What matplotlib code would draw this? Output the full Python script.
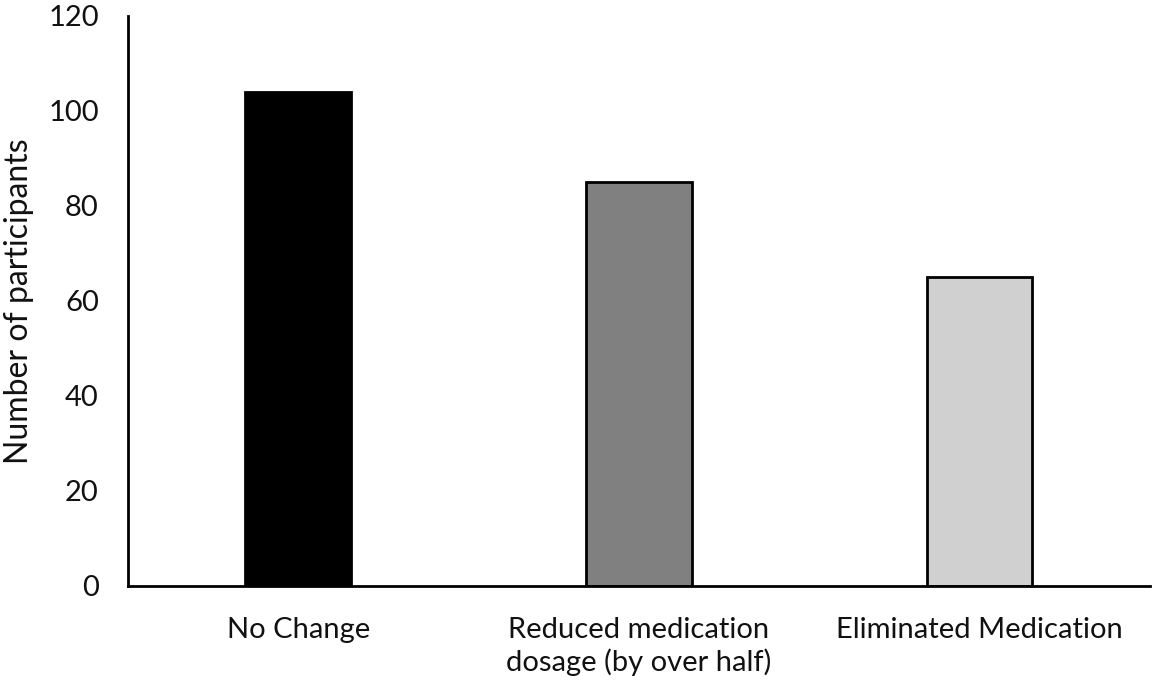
import matplotlib.pyplot as plt
import numpy as np

categories = ['No Change', 'Reduced medication\ndosage (by over half)', 'Eliminated Medication']
participants = [104, 85, 65]
bar_colors = ['#000000', '#808080', '#d0d0d0']

plt.rcParams['font.family'] = ['Lato', 'DejaVu Sans']

fig = plt.figure(figsize=(11.6, 6.86), dpi=100)
ax = fig.add_axes([0.1103, 0.1458, 0.881, 0.8309])

x = np.arange(len(categories))
ax.bar(x, participants, width=0.31, color=bar_colors, edgecolor='black', linewidth=2)

ax.set_xlim(-0.5, 2.5)
ax.set_ylim(0, 120)
ax.set_yticks(range(0, 121, 20))
ax.set_xticks(x)
ax.set_xticklabels(categories, fontsize=21, color='#111111', linespacing=1.25)
ax.tick_params(axis='y', labelsize=21, labelcolor='#111111', length=0, pad=21)
ax.tick_params(axis='x', length=0, pad=22)
ax.set_ylabel('Number of participants', fontsize=23, color='#111111', labelpad=10)

for s in ['top', 'right']:
    ax.spines[s].set_visible(False)
for s in ['left', 'bottom']:
    ax.spines[s].set_linewidth(2)

fig.savefig('out.png', dpi=100)
